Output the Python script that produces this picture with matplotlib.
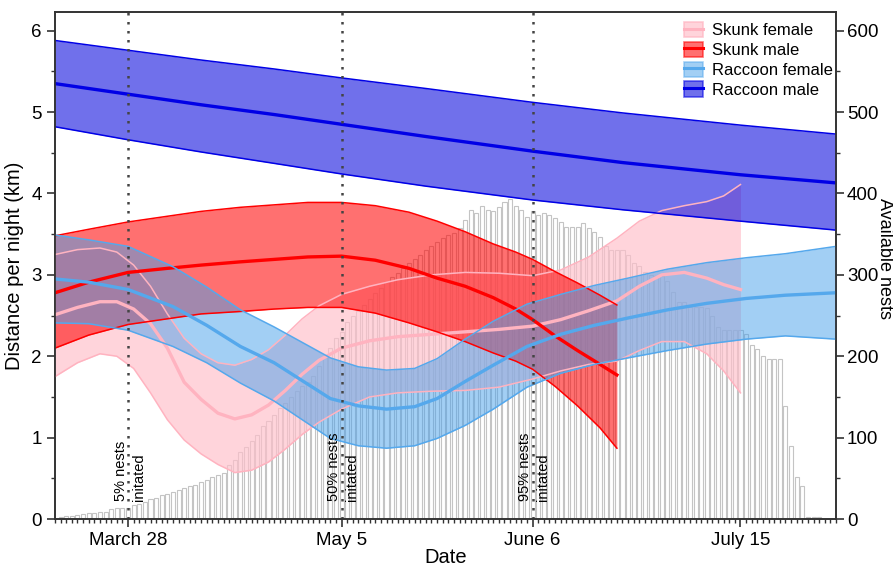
import numpy as np
import matplotlib.pyplot as plt
from matplotlib.patches import Patch
from matplotlib.lines import Line2D
from matplotlib.ticker import MultipleLocator, FixedLocator

plt.rcParams['font.family'] = ['Liberation Sans', 'DejaVu Sans']

# available nests per day (day of year)
nest_days = np.arange(75, 211)
nests = [3, 4, 4, 5, 6, 7, 7, 8, 9, 12, 13, 13, 14,
         17, 19, 21, 24, 26, 30, 31, 33, 36, 38, 40, 42, 46, 48, 52, 54, 57,
         66, 72, 82, 89, 96, 103, 114, 120, 128, 137, 143, 150, 157, 163, 168,
         176, 188, 200,
         210, 222, 230, 242, 250, 256, 263, 270, 278, 284, 291, 297, 302, 309,
         314, 319, 325, 330, 335, 340, 345, 349, 352, 358,
         368, 380, 376, 384, 380, 378, 383, 389, 393, 384, 380, 371, 379, 374,
         376, 374, 370, 365, 359, 359, 359, 364, 357, 353, 347, 335, 331, 331,
         331, 325,
         315, 311, 304, 300, 299, 298, 292, 279, 267, 267, 261, 261, 261, 259,
         249, 236, 232, 232, 232, 232, 227, 214, 209, 200, 196, 196, 196, 139,
         90, 52, 40, 3, 3, 3]

# skunk female
sf_day = [74, 78, 82, 85, 88, 91, 94, 97, 100, 103, 106, 109, 112, 115, 118,
          121, 125, 130, 135, 141, 147, 153, 159, 164, 169, 174, 178, 182, 186,
          190, 193, 196]
sf_hi = [3.25, 3.31, 3.33, 3.28, 3.12, 2.86, 2.52, 2.22, 2.03, 1.92, 1.89,
         1.96, 2.08, 2.26, 2.46, 2.62, 2.76, 2.86, 2.94, 3.00, 3.03, 3.02,
         2.99, 3.06, 3.22, 3.45, 3.66, 3.79, 3.85, 3.90, 3.97, 4.11]
sf_mid = [2.51, 2.60, 2.67, 2.67, 2.58, 2.40, 2.10, 1.68, 1.47, 1.30, 1.23,
          1.28, 1.40, 1.58, 1.78, 1.95, 2.10, 2.19, 2.24, 2.27, 2.30, 2.33,
          2.37, 2.45, 2.56, 2.68, 2.86, 3.00, 3.03, 2.96, 2.88, 2.82]
sf_lo = [1.75, 1.92, 2.03, 2.00, 1.85, 1.55, 1.22, 0.97, 0.80, 0.67, 0.57,
         0.60, 0.70, 0.86, 1.04, 1.19, 1.35, 1.50, 1.55, 1.57, 1.58, 1.62,
         1.72, 1.82, 1.90, 1.94, 2.07, 2.18, 2.18, 2.03, 1.82, 1.55]

# skunk male
sm_day = [74, 80, 87, 94, 100, 107, 113, 119, 125, 131, 137, 142, 147, 152,
          156, 159, 163, 167, 171, 174]
sm_hi = [3.48, 3.56, 3.65, 3.72, 3.78, 3.83, 3.86, 3.89, 3.89, 3.85, 3.77,
         3.66, 3.53, 3.38, 3.28, 3.19, 3.04, 2.90, 2.75, 2.63]
sm_mid = [2.78, 2.91, 3.03, 3.08, 3.12, 3.16, 3.19, 3.22, 3.23, 3.18, 3.08,
          2.96, 2.86, 2.72, 2.58, 2.45, 2.25, 2.07, 1.90, 1.77]
sm_lo = [2.10, 2.26, 2.39, 2.46, 2.52, 2.55, 2.58, 2.60, 2.60, 2.53, 2.41,
         2.30, 2.18, 2.04, 1.94, 1.84, 1.63, 1.39, 1.12, 0.87]

# raccoon female
rf_day = [74, 80, 87, 95, 101, 107, 113, 118, 123, 128, 133, 138, 142, 147,
          152, 158, 164, 170, 176, 183, 190, 197, 204, 213]
rf_hi = [3.49, 3.43, 3.35, 3.10, 2.85, 2.57, 2.36, 2.17, 1.98, 1.87, 1.83,
         1.85, 1.97, 2.21, 2.43, 2.64, 2.76, 2.87, 2.96, 3.07, 3.15, 3.21,
         3.26, 3.35]
rf_mid = [2.95, 2.91, 2.82, 2.61, 2.38, 2.12, 1.92, 1.70, 1.48, 1.39, 1.35,
          1.38, 1.48, 1.69, 1.89, 2.12, 2.27, 2.38, 2.47, 2.57, 2.65, 2.71,
          2.75, 2.78]
rf_lo = [2.41, 2.40, 2.32, 2.12, 1.92, 1.67, 1.45, 1.22, 0.99, 0.90, 0.87,
         0.90, 0.99, 1.15, 1.35, 1.62, 1.79, 1.90, 1.98, 2.07, 2.15, 2.21,
         2.25, 2.21]

# raccoon male
rm_day = [74, 87, 100, 113, 125, 140, 159, 175, 196, 213]
rm_hi = [5.88, 5.76, 5.64, 5.53, 5.42, 5.29, 5.12, 4.99, 4.84, 4.73]
rm_mid = [5.35, 5.22, 5.09, 4.97, 4.85, 4.70, 4.52, 4.38, 4.23, 4.13]
rm_lo = [4.82, 4.66, 4.51, 4.37, 4.24, 4.09, 3.92, 3.80, 3.66, 3.55]

groups = [
    ("Skunk female", sf_day, sf_hi, sf_mid, sf_lo, "#FFC0CB", 0.68, "#FFB3C0"),
    ("Skunk male", sm_day, sm_hi, sm_mid, sm_lo, "#FF0000", 0.56, "#FF0000"),
    ("Raccoon female", rf_day, rf_hi, rf_mid, rf_lo, "#46A0EB", 0.5, "#55A8EC"),
    ("Raccoon male", rm_day, rm_hi, rm_mid, rm_lo, "#0000DC", 0.56, "#0000E6"),
]

# 5%, 50%, 95% nest initiation
pct_days = [87, 125, 159]
pct_labels = ["5% nests\ninitated", "50% nests\ninitated", "95% nests\ninitated"]

date_ticks = [87, 125, 159, 196]
date_labels = ["March 28", "May 5", "June 6", "July 15"]

fig = plt.figure(figsize=(8.93, 5.66), dpi=100)
ax = fig.add_axes([55 / 893, 1 - 519 / 566, 781 / 893, 507 / 566])
ax2 = ax.twinx()

# nests histogram sits underneath, scale on the right
ax.bar(nest_days, nests, width=0.72, facecolor="white", edgecolor="#c4c4c4",
       linewidth=0.8)
ax.yaxis.tick_right()
ax.set_ylim(0, 623)
ax.yaxis.set_major_locator(MultipleLocator(100))
ax.yaxis.set_minor_locator(MultipleLocator(50))
fig.text(885 / 893, 1 - 258 / 566, "Available nests", rotation=270,
         ha="center", va="center", fontsize=13)

handles = []
for name, d, hi, mid, lo, col, alpha, lcol in groups:
    ax2.fill_between(d, lo, hi, color=col, alpha=alpha, linewidth=0)
    ax2.plot(d, hi, color=lcol, lw=1.1)
    ax2.plot(d, lo, color=lcol, lw=1.1)
    ax2.plot(d, mid, color=lcol, lw=2.4)
    handles.append((Patch(facecolor=col, alpha=alpha, edgecolor=lcol, lw=1.2),
                    Line2D([], [], color=lcol, lw=2.2)))

for d, txt in zip(pct_days, pct_labels):
    ax2.axvline(d, color="#444444", lw=1.8, linestyle=(0, (1, 2.6)))
    ax2.text(d + 0.3, 0.22, txt, rotation=90, ha="center", va="bottom",
             fontsize=10.5, linespacing=1.35, multialignment="left")

ax2.yaxis.tick_left()
ax2.yaxis.set_label_position("left")
ax2.set_ylim(0, 6.23)
ax2.yaxis.set_major_locator(MultipleLocator(1))
ax2.yaxis.set_minor_locator(MultipleLocator(0.5))
ax2.set_ylabel("Distance per night (km)", fontsize=14.5, labelpad=5)

ax.set_xlim(74, 213)
ax.xaxis.set_major_locator(FixedLocator(date_ticks))
ax.set_xticklabels(date_labels)
ax.xaxis.set_minor_locator(MultipleLocator(1))
ax.set_xlabel("Date", fontsize=14.5, labelpad=-1)

for a in (ax, ax2):
    a.tick_params(which="major", direction="out", length=6, width=1.2,
                  labelsize=13.5, color="#333333")
    a.tick_params(which="minor", direction="out", length=3, width=1.0,
                  color="#333333")
    for s in a.spines.values():
        s.set_linewidth(1.2)
        s.set_color("#333333")
ax.tick_params(axis="y", which="major", pad=2)

ax2.legend(handles, [g[0] for g in groups], loc="upper left",
           bbox_to_anchor=(684 / 893, 1 - 22 / 566),
           bbox_transform=fig.transFigure, frameon=False, fontsize=12,
           handlelength=1.15, handleheight=1.05, labelspacing=0.2,
           handletextpad=0.55, borderpad=0, borderaxespad=0)

fig.savefig("out.png", dpi=100)
